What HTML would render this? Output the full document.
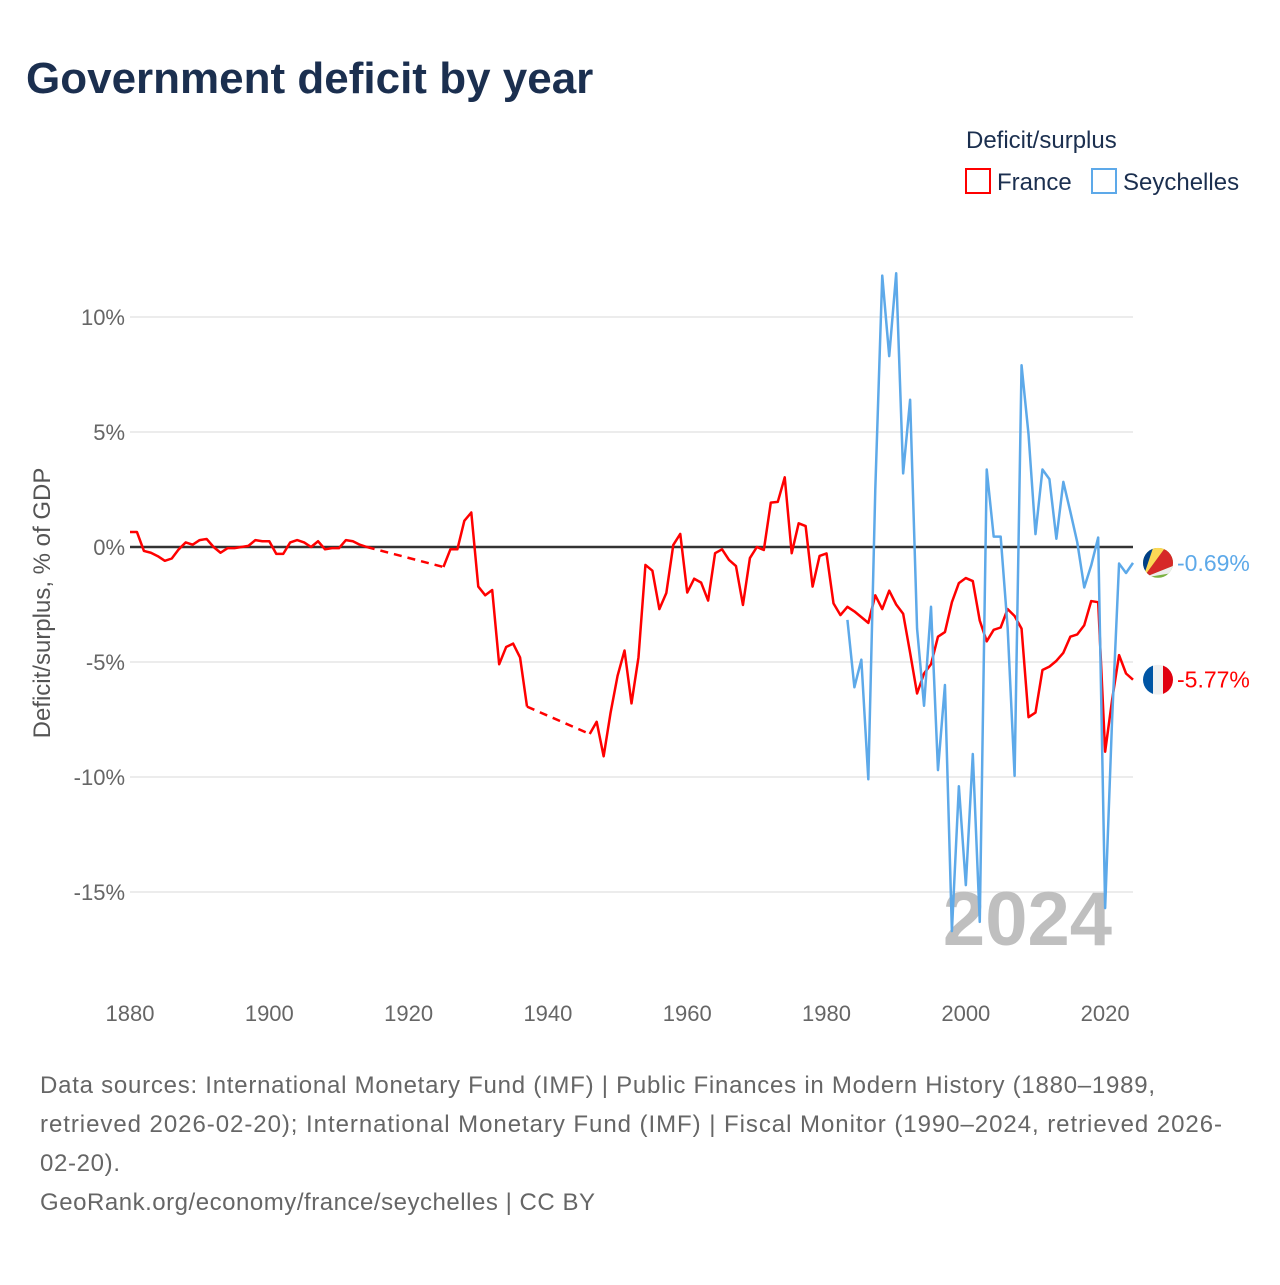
<!DOCTYPE html>
<html><head><meta charset="utf-8">
<style>
body{margin:0;background:#fff;width:1280px;height:1280px;overflow:hidden;font-family:"Liberation Sans",sans-serif;}
svg text{font-family:"Liberation Sans",sans-serif;}
</style></head>
<body>
<svg id="chart" width="1280" height="1280" viewBox="0 0 1280 1280">
<text x="26" y="93" font-size="44" font-weight="bold" fill="#1b2f4f">Government deficit by year</text>
<g>
<text x="966" y="148" font-size="24" fill="#1b2f4f">Deficit/surplus</text>
<g><rect x="966" y="169" width="24" height="24" fill="#fff" stroke="#ff0000" stroke-width="2"/><text x="997" y="190" font-size="24" fill="#1b2f4f">France</text></g>
<g><rect x="1092" y="169" width="24" height="24" fill="#fff" stroke="#5da9e9" stroke-width="2"/><text x="1123" y="190" font-size="24" fill="#1b2f4f">Seychelles</text></g>
</g>
<text transform="translate(50,603) rotate(-90)" text-anchor="middle" font-size="24" fill="#555">Deficit/surplus, % of GDP</text>
<g id="grid"></g>
<g id="xaxis"></g>
<text x="1112" y="945" text-anchor="end" font-size="76" font-weight="bold" fill="#bfbfbf">2024</text>
<g id="series"></g>
<g id="endlabels"></g>
<g font-size="24" fill="#666">
<text x="40" y="1093" textLength="1115" lengthAdjust="spacing">Data sources: International Monetary Fund (IMF) | Public Finances in Modern History (1880–1989,</text>
<text x="40" y="1132" textLength="1182" lengthAdjust="spacing">retrieved 2026-02-20); International Monetary Fund (IMF) | Fiscal Monitor (1990–2024, retrieved 2026-</text>
<text x="40" y="1171" textLength="80" lengthAdjust="spacing">02-20).</text>
<text x="40" y="1210" textLength="555" lengthAdjust="spacing">GeoRank.org/economy/france/seychelles | CC BY</text>
</g>
</svg>
<script>
const xTicks=[1880,1900,1920,1940,1960,1980,2000,2020];
const yTicks=[10,5,0,-5,-10,-15];
const yTickLabels=["10%","5%","0%","-5%","-10%","-15%"];
const franceStart=1880;
const franceValues=[0.65,0.65,-0.17,-0.25,-0.4,-0.6,-0.5,-0.1,0.2,0.1,0.3,0.35,0,-0.25,-0.05,-0.05,0,0.05,0.3,0.25,0.25,-0.3,-0.3,0.2,0.3,0.2,0,0.25,-0.1,-0.05,-0.05,0.3,0.25,0.1,0,
null,null,null,null,null,null,null,null,null,null,
-0.87,-0.1,-0.1,1.14,1.5,-1.72,-2.1,-1.87,-5.1,-4.35,-4.2,-4.8,-6.94,
null,null,null,null,null,null,null,null,
-8.13,-7.6,-9.1,-7.2,-5.6,-4.5,-6.8,-4.8,-0.78,-1.03,-2.7,-2.0,0.09,0.57,-1.98,-1.38,-1.55,-2.33,-0.27,-0.1,-0.56,-0.83,-2.52,-0.48,0,-0.13,1.93,1.96,3.03,-0.27,1.03,0.91,-1.72,-0.39,-0.28,-2.45,-2.96,-2.6,-2.8,-3.05,
-3.3,-2.1,-2.7,-1.9,-2.5,-2.9,-4.6,-6.37,-5.5,-5.1,-3.9,-3.7,-2.4,-1.57,-1.35,-1.48,-3.2,-4.1,-3.6,-3.5,-2.7,-3.0,-3.55,-7.4,-7.2,-5.35,-5.2,-4.95,-4.6,-3.9,-3.8,-3.4,-2.35,-2.4,-8.9,-6.65,-4.7,-5.5,-5.77];
const seyStart=1983;
const seyValues=[-3.17,-6.1,-4.9,-10.1,2.5,11.8,8.3,11.9,3.2,6.4,-3.55,-6.9,-2.6,-9.7,-6.0,-16.7,-10.4,-14.7,-9.0,-16.3,3.37,0.45,0.45,-3.5,-9.95,7.9,4.9,0.56,3.37,2.95,0.36,2.83,1.54,0.2,-1.76,-0.8,0.41,-15.7,-7.5,-0.72,-1.13,-0.69];
const NS='http://www.w3.org/2000/svg';
const X=y=>130+(y-1880)*(1003/144);
const Y=v=>547-v*23;
function mk(tag,attrs,parent){const e=document.createElementNS(NS,tag);for(const k in attrs)e.setAttribute(k,attrs[k]);parent.appendChild(e);return e;}
const grid=document.getElementById('grid');
yTicks.forEach((t,i)=>{
 if(t!==0){const l=mk('line',{x1:130,x2:1133,y1:Y(t),y2:Y(t),stroke:'#e6e6e6','stroke-width':1.5},grid);
 
 }
 const tx=mk('text',{x:125,y:Y(t)+8,'text-anchor':'end','font-size':22,fill:'#666'},grid);
 tx.textContent=yTickLabels[i];
 
 
});
const xa=document.getElementById('xaxis');
xTicks.forEach(t=>{const tx=mk('text',{x:X(t),y:1021,'text-anchor':'middle','font-size':22,fill:'#666'},xa);
 tx.textContent=t;
 
 });
const zl=mk('line',{x1:130,x2:1133,y1:Y(0),y2:Y(0),stroke:'#333','stroke-width':2.5},grid);


const ser=document.getElementById('series');
function draw(start,vals,color,name){
 let seg=[],last=null;
 const flush=()=>{if(seg.length>1){const p=mk('polyline',{points:seg.join(' '),fill:'none',stroke:color,'stroke-width':2.5,'stroke-linejoin':'round'},ser);
  
  }seg=[];};
 vals.forEach((v,i)=>{const yr=start+i;
  if(v===null){flush();return;}
  if(last&&last.yr!==yr-1){const d=mk('line',{x1:X(last.yr),y1:Y(last.v),x2:X(yr),y2:Y(v),stroke:color,'stroke-width':2.5,'stroke-dasharray':'8,6'},ser);
   
   }
  seg.push(X(yr)+','+Y(v));last={yr,v};});
 flush();
}
draw(franceStart,franceValues,'#ff0000','france');
draw(seyStart,seyValues,'#5da9e9','seychelles');
const el=document.getElementById('endlabels');
const fv=franceValues[franceValues.length-1], sv=seyValues[seyValues.length-1];
const fy=Y(fv), sy=Y(sv);
let g=mk('g',{},el);


const cpf=mk('clipPath',{id:'cf'},g);mk('circle',{cx:1158,cy:fy,r:15},cpf);
const gf=mk('g',{'clip-path':'url(#cf)'},g);
mk('rect',{x:1143,y:fy-15,width:10,height:30,fill:'#0055a4'},gf);
mk('rect',{x:1153,y:fy-15,width:10,height:30,fill:'#f0f0f0'},gf);
mk('rect',{x:1163,y:fy-15,width:10,height:30,fill:'#e1000f'},gf);
let t=mk('text',{x:1177,y:fy+8,'font-size':23,fill:'#ff0000'},el);
t.textContent=fv.toFixed(2)+'%';


g=mk('g',{},el);


const cp=mk('clipPath',{id:'cs'},g);mk('circle',{cx:1158,cy:sy,r:15},cp);
const gs=mk('g',{'clip-path':'url(#cs)'},g);
const bx=1143,by=sy+15;
mk('rect',{x:1143,y:sy-15,width:30,height:30,fill:'#7bb241'},gs);
mk('polygon',{points:`${bx},${by} ${bx+30},${by-5} ${bx+30},${by-12}`,fill:'#eeeeee'},gs);
mk('polygon',{points:`${bx},${by} ${bx+30},${by-12} ${bx+30},${by-30} ${bx+22},${by-30}`,fill:'#d62828'},gs);
mk('polygon',{points:`${bx},${by} ${bx+22},${by-30} ${bx+10},${by-30}`,fill:'#fcd856'},gs);
mk('polygon',{points:`${bx},${by} ${bx+10},${by-30} ${bx},${by-30}`,fill:'#003f87'},gs);
t=mk('text',{x:1177,y:sy+8,'font-size':23,fill:'#5da9e9'},el);
t.textContent=sv.toFixed(2)+'%';


</script>
</body></html>
